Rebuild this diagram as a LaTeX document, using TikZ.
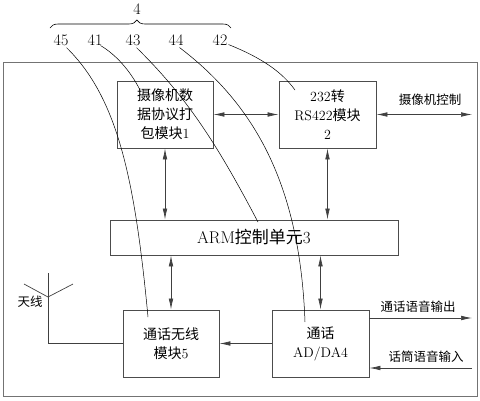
\documentclass[tikz,border=0pt]{standalone}
\usepackage{fontspec}
\newfontfamily\cjk{Noto Sans CJK SC}
\newcommand\latn[1]{{\rmfamily #1}}
\usetikzlibrary{arrows.meta,decorations.pathreplacing}
\tikzset{
  box/.style={draw=black!70,line width=0.8pt,align=center,inner sep=0pt,
    font=\cjk\fontsize{14}{19}\selectfont},
  dar/.style={draw=black!75,line width=0.7pt,{Latex[length=11pt,width=4.6pt]}-{Latex[length=11pt,width=4.6pt]}},
  sar/.style={draw=black!75,line width=0.7pt,-{Latex[length=11pt,width=4.6pt]}},
  wire/.style={draw=black!75,line width=0.7pt},
  lead/.style={draw=black,line width=0.5pt},
  num/.style={font=\fontsize{16}{16}\selectfont,inner sep=0pt},
  lbl/.style={font=\cjk\fontsize{12.5}{14}\selectfont,inner sep=0pt}
}
\begin{document}
\begin{tikzpicture}[x=1pt,y=-1pt]
\useasboundingbox (0,0) rectangle (480,400);
\node[draw=black!55,line width=0.8pt,minimum width=474pt,minimum height=334pt,inner sep=0pt] (frame) at (240.5,229.5) {};
% boxes
\node[box,minimum width=96pt,minimum height=67pt] (b1) at (165,114.5) {摄像机数\\据协议打\\包模块\latn{1}};
\node[box,minimum width=97pt,minimum height=67pt] (b2) at (327.5,114.5) {\latn{232}转\\\latn{RS422}模块\\\latn{2}};
\node[box,minimum width=288pt,minimum height=35pt,font=\cjk\fontsize{17}{20}\selectfont] (arm) at (254,237.5) {\latn{ARM}控制单元\latn{3}};
\node[box,minimum width=96pt,minimum height=67pt] (b5) at (171,343.5) {通话无线\\模块\latn{5}};
\node[box,minimum width=97pt,minimum height=67pt] (ad) at (320.5,343.5) {通话\\\latn{AD/DA4}};
% arrows
\draw[dar] (b1.east) -- (b2.west);
\coordinate (camc) at (472,114.5);
\draw[dar] (b2.east) -- (camc);
\node[lbl] (camlbl) at (430,100) {摄像机控制};
\draw[dar] (b1.south) -- (b1.south |- arm.north);
\draw[dar] (b2.south) -- (b2.south |- arm.north);
\draw[dar] (b5.north |- arm.south) -- (b5.north);
\draw[dar] (ad.north |- arm.south) -- (ad.north);
\draw[sar] (ad.west) -- (b5.east);
% antenna
\coordinate (antc) at (48,343.5);
\coordinate (antt) at (48,273);
\coordinate (antj) at (48,297);
\coordinate (antl) at (24,284);
\coordinate (antr) at (73,284);
\draw[wire] (b5.west) -- (antc) -- (antt);
\draw[wire] (antl) -- (antj) -- (antr);
\node[lbl] (antlbl) at (30,302) {天线};
% outputs
\coordinate (outs) at (ad.east |- 0,318);
\coordinate (oute) at (472,318);
\draw[sar] (outs) -- (oute);
\node[lbl] (outlbl) at (418,307) {通话语音输出};
\coordinate (ins) at (472,368);
\coordinate (ine) at (ad.east |- 0,368);
\draw[sar] (ins) -- (ine);
\node[lbl] (inlbl) at (426,357) {话筒语音输入};
% brace and numbers
\coordinate (brl) at (50,28);
\coordinate (brr) at (231,28);
\draw[line width=0.6pt,decorate,decoration={brace,amplitude=8pt,aspect=0.48}] (brl) -- (brr);
\node[num] (n4) at (137,9) {4};
\node[num] (n45) at (61,40) {45};
\node[num] (n41) at (95,40) {41};
\node[num] (n43) at (133,40) {43};
\node[num] (n44) at (176,40) {44};
\node[num] (n42) at (220,40) {42};
% leaders
\coordinate (e45) at (148,317);
\coordinate (e41) at (140,90);
\coordinate (e43) at (258,222);
\coordinate (e44) at (305,322);
\coordinate (e42) at (295,90);
\draw[lead] (n45.south east) ++(-2,2) .. controls (118,98) and (135,180) .. (e45);
\draw[lead] (n41.south east) ++(-2,0) .. controls (115,54) and (130,70) .. (e41);
\draw[lead] (n43.south east) ++(-4,2) .. controls (190,100) and (220,150) .. (e43);
\draw[lead] (n44.south east) ++(-4,2) .. controls (255,105) and (300,185) .. (e44);
\draw[lead] (n42.south east) ++(1,-1) .. controls (262,58) and (282,72) .. (e42);
\end{tikzpicture}
\end{document}
